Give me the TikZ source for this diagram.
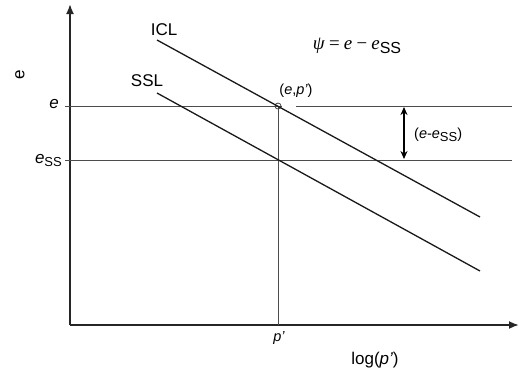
\documentclass[tikz,border=0pt]{standalone}
\usepackage{fontspec}
\setmainfont{Liberation Sans}
\newfontfamily\mathlike{Liberation Serif}
\usetikzlibrary{arrows.meta}
\begin{document}
\begin{tikzpicture}[x=1pt,y=-1pt,
  axis/.style={line width=1.8pt,draw=black!85,-{Latex[length=10pt,width=8pt]}},
  guide/.style={line width=0.9pt,draw=black!70},
  curve/.style={line width=1.3pt,draw=black!90},
  lbl/.style={inner sep=0pt,font=\fontsize{17}{19}\selectfont},
  small/.style={inner sep=0pt,font=\fontsize{14.5}{17}\selectfont}]
\useasboundingbox (0,0) rectangle (519,376);
% axes
\coordinate (O) at (70,325);
\coordinate (Ytop) at (70,4);
\coordinate (Xend) at (519,325);
\draw[axis] (O) -- (Ytop);
\draw[axis] (O) -- (Xend);
% guide lines
\coordinate (eL) at (65,106);
\coordinate (eM) at (282,106);
\coordinate (eM2) at (296,106);
\coordinate (eR) at (512,106);
\coordinate (sL) at (65,160);
\coordinate (sR) at (512,160);
\coordinate (P) at (278,106);
\coordinate (Pb) at (278,325);
\draw[guide] (eL) -- (eM);
\draw[guide] (eM2) -- (eR);
\draw[guide] (sL) -- (sR);
\draw[guide] (P) -- (Pb);
\node[circle,draw=black!75,line width=0.8pt,inner sep=0pt,minimum size=6pt] (pt) at (P) {};
% lines
\coordinate (icl1) at (157,40);
\coordinate (icl2) at (480,217);
\coordinate (ssl1) at (157,93);
\coordinate (ssl2) at (480,271);
\draw[curve] (icl1) -- (icl2);
\draw[curve] (ssl1) -- (ssl2);
% double arrow
\coordinate (a1) at (404,107);
\coordinate (a2) at (404,159);
\draw[line width=1.4pt,{Stealth[length=8pt,width=7pt]}-{Stealth[length=8pt,width=7pt]}] (a1) -- (a2);
% labels
\node[lbl] (ICL) at (164,30) {ICL};
\node[lbl] (SSL) at (147,81) {SSL};
\node[lbl,rotate=90] (ylab) at (20,75) {e};
\node[lbl,anchor=east] (elab) at (59,104) {\itshape e};
\node[lbl,anchor=east] (esslab) at (62,160) {\itshape e\raisebox{-3pt}{\fontsize{13}{14}\selectfont\upshape SS}};
\node[small] (eplab) at (296,91) {(\itshape e\upshape,\itshape p\textquoteright\upshape)};
\node[small,anchor=west] (diff) at (414,135) {(\itshape e\upshape-\itshape e\upshape\raisebox{-3pt}{\fontsize{13}{14}\selectfont SS})};
\node[inner sep=0pt,font=\fontsize{19}{21}\selectfont] (psi) at (357,46) {{\mathlike\itshape ψ\,=\,e\,−\,e}\raisebox{-3.5pt}{\fontsize{16}{17}\selectfont SS}};
\node[small] (plab) at (279,338) {\itshape p\textquoteright};
\node[lbl] (xlab) at (375,360) {log(\itshape p\textquoteright\upshape)};
\end{tikzpicture}
\end{document}
